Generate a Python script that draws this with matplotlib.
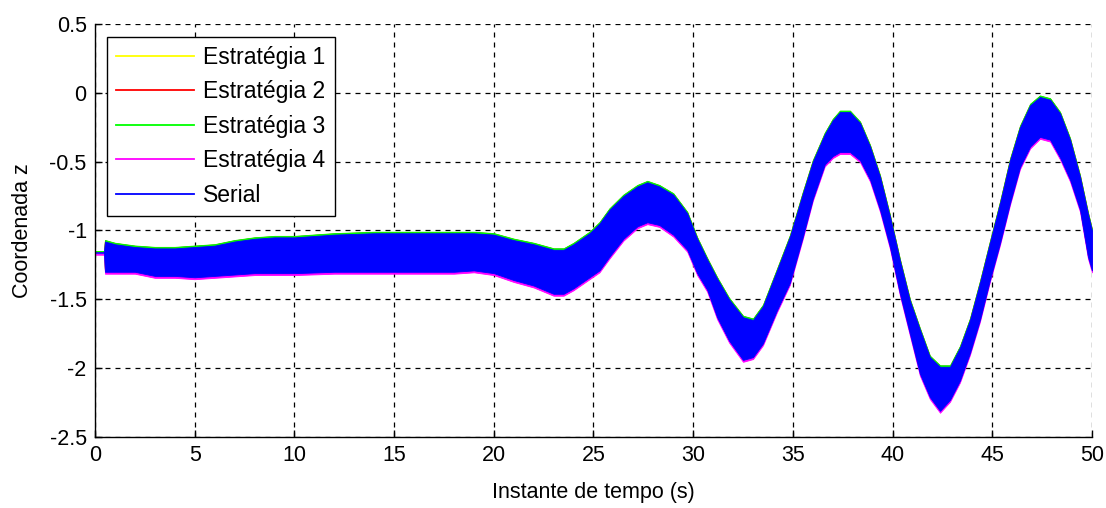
import matplotlib
matplotlib.use("Agg")
import matplotlib.pyplot as plt
from matplotlib.lines import Line2D

plt.rcParams["font.family"] = ["Liberation Sans", "DejaVu Sans"]

# time knots (s) and the band (upper / lower edge) of the Serial trace
t = [0, 0.45, 0.5, 1, 2, 3, 4, 5, 6, 7, 8, 9, 10, 12, 14, 16, 18, 19, 20, 21, 22, 23, 23.5,
     24, 24.8, 25.3, 25.8, 26.5, 27.2, 27.7, 28.3, 29.0, 29.7, 30.2, 30.7, 31.2, 31.8, 32.5,
     33.0, 33.5, 34.2, 34.85, 35.5, 36.0, 36.6, 37.0, 37.36, 37.86, 38.37, 38.87, 39.37,
     39.87, 40.37, 40.87, 41.37, 41.87, 42.38, 42.88, 43.38, 43.88, 44.38, 44.88, 45.39,
     45.89, 46.39, 46.9, 47.39, 47.9, 48.4, 48.9, 49.4, 49.8, 50]
serial_top = [-1.16, -1.16, -1.08, -1.10, -1.12, -1.13, -1.13, -1.12, -1.11, -1.08, -1.06,
              -1.05, -1.05, -1.03, -1.02, -1.02, -1.02, -1.02, -1.03, -1.07, -1.10, -1.14,
              -1.14, -1.10, -1.02, -0.95, -0.85, -0.75, -0.68, -0.65, -0.68, -0.74, -0.875,
              -1.06, -1.21, -1.35, -1.50, -1.63, -1.65, -1.55, -1.29, -1.045, -0.73, -0.50,
              -0.30, -0.20, -0.14, -0.14, -0.22, -0.39, -0.61, -0.90, -1.22, -1.51, -1.72,
              -1.92, -1.99, -1.99, -1.85, -1.65, -1.38, -1.09, -0.80, -0.49, -0.25, -0.09,
              -0.03, -0.05, -0.15, -0.34, -0.61, -0.88, -1.00]
serial_bot = [-1.16, -1.16, -1.30, -1.30, -1.30, -1.33, -1.33, -1.34, -1.33, -1.32, -1.31,
              -1.31, -1.31, -1.30, -1.30, -1.30, -1.30, -1.29, -1.31, -1.36, -1.40, -1.46,
              -1.46, -1.42, -1.34, -1.29, -1.19, -1.06, -0.97, -0.94, -0.96, -1.03, -1.14,
              -1.31, -1.43, -1.63, -1.80, -1.94, -1.92, -1.82, -1.58, -1.38, -1.045, -0.77,
              -0.52, -0.46, -0.43, -0.43, -0.49, -0.63, -0.85, -1.12, -1.46, -1.75, -2.04,
              -2.21, -2.31, -2.23, -2.09, -1.89, -1.65, -1.36, -1.09, -0.80, -0.54, -0.39,
              -0.32, -0.34, -0.47, -0.63, -0.85, -1.19, -1.29]

labels = ["Estratégia 1", "Estratégia 2", "Estratégia 3", "Estratégia 4", "Serial"]
colors = ["#ffff00", "#ff0000", "#00ff00", "#ff00ff", "#0000ff"]
# vertical shift of each trace relative to Serial (what peeks out of the blue band)
shifts = [0.006, 0.009, 0.011, -0.014, 0.0]

fig = plt.figure(figsize=(11.06, 5.08), dpi=100)
ax = fig.add_axes([0.0859, 0.1398, 0.9014, 0.8130])

for lab, col, dz in zip(labels, colors, shifts):
    top = [v + dz for v in serial_top]
    bot = [v + dz for v in serial_bot]
    ax.fill_between(t, bot, top, facecolor=col, edgecolor=col, lw=0.6)

ax.set_xlim(0, 50)
ax.set_ylim(-2.5, 0.5)
ax.set_xticks(range(0, 51, 5))
ax.set_yticks([-2.5, -2, -1.5, -1, -0.5, 0, 0.5])
ax.set_yticklabels(["-2.5", "-2", "-1.5", "-1", "-0.5", "0", "0.5"])
ax.tick_params(direction="in", length=5, labelsize=15.5, colors="black", width=1, pad=6)
ax.spines["top"].set_visible(False)
ax.spines["right"].set_visible(False)
for s in ("left", "bottom"):
    ax.spines[s].set_linewidth(1)
ax.grid(True, color="black", linestyle=(0, (4, 4)), linewidth=0.9)
ax.set_axisbelow(True)

ax.set_xlabel("Instante de tempo (s)", fontsize=15.5, labelpad=11)
ax.set_ylabel("Coordenada z", fontsize=15.5, labelpad=12)

handles = [Line2D([], [], color=c, lw=1.3) for c in colors]
leg = ax.legend(handles, labels, loc="upper left", bbox_to_anchor=(0.012, 0.969),
                borderaxespad=0, fontsize=16.5, fancybox=False, framealpha=1,
                edgecolor="black", handlelength=3.4, labelspacing=0.5,
                handletextpad=0.4, borderpad=0.4)
leg.get_frame().set_linewidth(1)

fig.savefig("out.png", dpi=100)
